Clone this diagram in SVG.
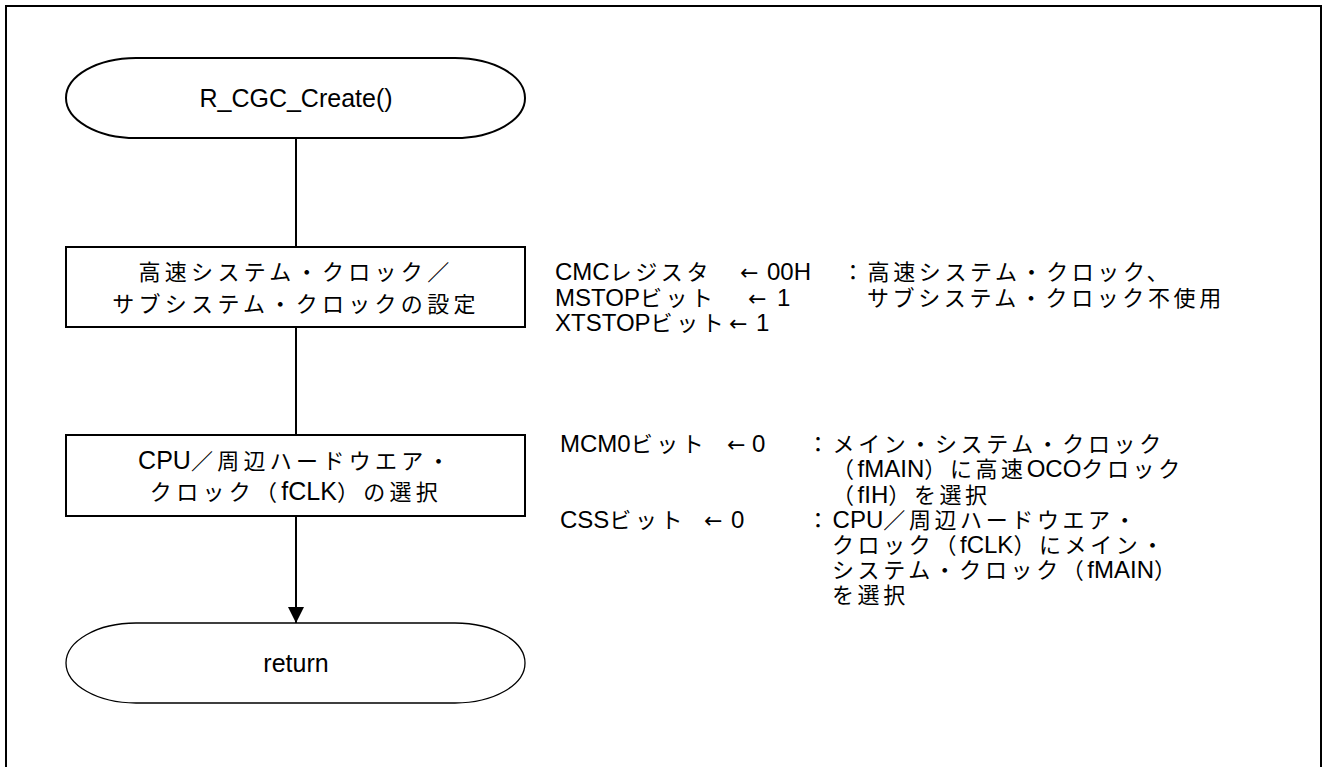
<svg xmlns="http://www.w3.org/2000/svg" width="1325" height="767" viewBox="0 0 1325 767">
  <style>
    .bg { fill: #ffffff; }
    .frame { fill: none; stroke: #000; stroke-width: 2; }
    .shape { fill: #ffffff; stroke: #000; stroke-width: 2; }
    .thin { fill: #ffffff; stroke: #000; stroke-width: 1.3; }
    .edge { fill: none; stroke: #000; stroke-width: 2; }
    text { font-family: "Liberation Sans", "Noto Sans CJK JP", sans-serif; font-size: 25px; fill: #000; }
    .note { font-size: 24px; }
    .mid { text-anchor: middle; }
    .j { font-size: 22px; letter-spacing: 3.6px; }
    .jb { font-size: 22px; letter-spacing: 4.3px; }
    .arr { font-family: "DejaVu Sans", sans-serif; font-size: 22px; }
  </style>
  <defs>
    <marker id="arrow" markerWidth="16" markerHeight="16" refX="16" refY="8" orient="auto" markerUnits="userSpaceOnUse">
      <path d="M0,0 L16,8 L0,16 Z" fill="#000"/>
    </marker>
  </defs>

  <rect class="bg" x="0" y="0" width="1325" height="767"/>
  <!-- page frame, open at the bottom -->
  <path class="frame" d="M6,770 V6 H1321 V770"/>

  <!-- connectors -->
  <g id="connectors">
    <line class="edge" x1="296" y1="138" x2="296" y2="247"/>
    <line class="edge" x1="296" y1="327" x2="296" y2="435"/>
    <line class="edge" x1="296" y1="516" x2="296" y2="623" marker-end="url(#arrow)"/>
  </g>

  <!-- start terminal -->
  <g id="start">
    <path class="shape" d="M136,58 H455 A70,40 0 0 1 455,138 H136 A70,40 0 0 1 136,58 Z"/>
    <text class="mid" x="296" y="107">R_CGC_Create()</text>
  </g>

  <!-- step 1: high-speed / subsystem clock setup -->
  <g id="step-clock-setup">
    <rect class="shape" x="66" y="247" width="459" height="80"/>
    <text class="mid jb" x="296" y="280">高速システム・クロック／</text>
    <text class="mid jb" x="296" y="312">サブシステム・クロックの設定</text>
  </g>

  <!-- step 2: CPU / peripheral clock selection -->
  <g id="step-fclk-select">
    <rect class="shape" x="66" y="435" width="459" height="81"/>
    <text class="mid" x="296" y="469">CPU<tspan class="jb">／周辺ハードウエア・</tspan></text>
    <text class="mid" x="296" y="500"><tspan class="jb">クロック（</tspan>fCLK<tspan class="jb">）の選択</tspan></text>
  </g>

  <!-- end terminal -->
  <g id="end">
    <path class="thin" d="M136,623 H455 A70,40 0 0 1 455,703 H136 A70,40 0 0 1 136,623 Z"/>
    <text class="mid" x="296" y="672">return</text>
  </g>

  <!-- register notes for step 1 -->
  <g id="note-clock-setup">
    <text class="note" x="555" y="280">CMC<tspan class="j">レジスタ</tspan><tspan class="arr" x="740">←</tspan><tspan x="767">00H</tspan></text>
    <text class="note j" x="842" y="280">：高速システム・クロック、</text>
    <text class="note" x="555" y="306">MSTOP<tspan class="j">ビット</tspan><tspan class="arr" x="748">←</tspan><tspan x="777">1</tspan></text>
    <text class="note j" x="867" y="306">サブシステム・クロック不使用</text>
    <text class="note" x="555" y="331">XTSTOP<tspan class="j">ビット</tspan><tspan class="arr" x="729">←</tspan><tspan x="756">1</tspan></text>
  </g>

  <!-- register notes for step 2 -->
  <g id="note-fclk-select">
    <text class="note" x="560" y="452">MCM0<tspan class="j">ビット</tspan><tspan class="arr" x="727">←</tspan><tspan x="752">0</tspan></text>
    <text class="note j" x="807" y="452">：メイン・システム・クロック</text>
    <text class="note" x="832" y="477"><tspan class="j">（</tspan>fMAIN<tspan class="j">）に高速</tspan>OCO<tspan class="j">クロック</tspan></text>
    <text class="note" x="832" y="503"><tspan class="j">（</tspan>fIH<tspan class="j">）を選択</tspan></text>
    <text class="note" x="560" y="528">CSS<tspan class="j">ビット</tspan><tspan class="arr" x="704">←</tspan><tspan x="731">0</tspan></text>
    <text class="note" x="807" y="528"><tspan class="j">：</tspan>CPU<tspan class="j">／周辺ハードウエア・</tspan></text>
    <text class="note" x="832" y="553"><tspan class="j">クロック（</tspan>fCLK<tspan class="j">）にメイン・</tspan></text>
    <text class="note" x="832" y="578"><tspan class="j">システム・クロック（</tspan>fMAIN<tspan class="j">）</tspan></text>
    <text class="note j" x="832" y="603">を選択</text>
  </g>
</svg>
